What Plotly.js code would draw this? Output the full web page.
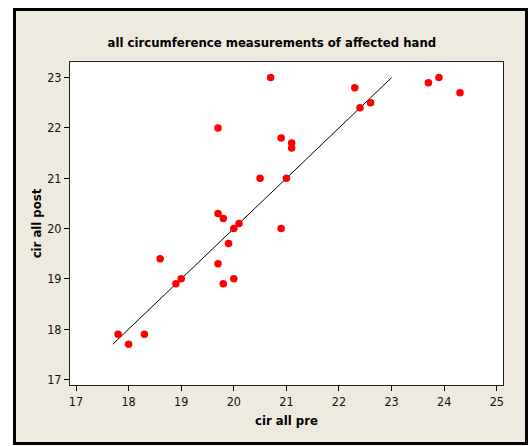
<!DOCTYPE html>
<html>
<head>
<meta charset="utf-8">
<script src="https://cdn.plot.ly/plotly-3.0.1.min.js"></script>
<style>
  html, body { margin: 0; padding: 0; background: #ffffff; }
  #frame { position: absolute; left: 13px; top: 8px; width: 509px; height: 431px;
           border: 3px solid #000; background: #EEEAE0; }
  #chart { position: absolute; left: 0; top: 0; width: 531px; height: 446px; }
</style>
</head>
<body>
<div id="frame"></div>
<div id="chart"></div>
<script>
// Data
const cirAllPre  = [17.8, 18.0, 18.3, 18.6, 18.9, 19.0, 19.7, 19.7, 19.8, 19.7, 19.8, 19.9, 20.0, 20.1,
                    20.0, 20.5, 20.7, 20.9, 20.9, 21.0, 21.1, 21.1, 22.3, 22.4, 22.6, 23.7, 23.9, 24.3];
const cirAllPost = [17.9, 17.7, 17.9, 19.4, 18.9, 19.0, 22.0, 20.3, 20.2, 19.3, 18.9, 19.7, 20.0, 20.1,
                    19.0, 21.0, 23.0, 21.8, 20.0, 21.0, 21.7, 21.6, 22.8, 22.4, 22.5, 22.9, 23.0, 22.7];
const lineX = [17.7, 23.0];
const lineY = [17.7, 23.0];
const xTicks = [17, 18, 19, 20, 21, 22, 23, 24, 25];
const yTicks = [17, 18, 19, 20, 21, 22, 23];

const fontFam = "DejaVu Sans Condensed, Liberation Sans Narrow, sans-serif";

const traces = [
  { x: lineX, y: lineY, mode: 'lines', type: 'scatter',
    line: { color: '#000000', width: 1 }, hoverinfo: 'skip', showlegend: false },
  { x: cirAllPre, y: cirAllPost, mode: 'markers', type: 'scatter',
    marker: { color: '#FF0000', size: 7.5, line: { width: 0 } }, showlegend: false }
];

const layout = {
  width: 531, height: 446,
  paper_bgcolor: 'rgba(0,0,0,0)',
  plot_bgcolor: '#FFFFFF',
  margin: { l: 70, r: 28, t: 62, b: 61 },
  title: { text: '<b>all circumference measurements of affected hand</b>',
           font: { family: fontFam, size: 13, color: '#000' },
           x: 0.512, xanchor: 'center', y: 0.905, yanchor: 'middle' },
  xaxis: {
    range: [16.886, 25.118], tickvals: xTicks, ticktext: xTicks.map(String),
    ticks: 'outside', ticklen: 5, tickcolor: '#000', tickwidth: 1,
    showgrid: false, zeroline: false,
    showline: true, linecolor: '#222', linewidth: 1, mirror: true,
    tickfont: { family: fontFam, size: 12.5, color: '#111' },
    title: { text: '<b>cir all pre</b>', font: { family: fontFam, size: 13, color: '#000' }, standoff: 7 }
  },
  yaxis: {
    range: [16.89, 23.31], tickvals: yTicks, ticktext: yTicks.map(String),
    ticks: 'outside', ticklen: 5, tickcolor: '#000', tickwidth: 1,
    showgrid: false, zeroline: false,
    showline: true, linecolor: '#222', linewidth: 1, mirror: true,
    tickfont: { family: fontFam, size: 12.5, color: '#111' },
    title: { text: '<b>cir all post</b>', font: { family: fontFam, size: 13, color: '#000' }, standoff: 2 }
  }
};

Plotly.newPlot('chart', traces, layout, { displayModeBar: false, staticPlot: true });
</script>
</body>
</html>
